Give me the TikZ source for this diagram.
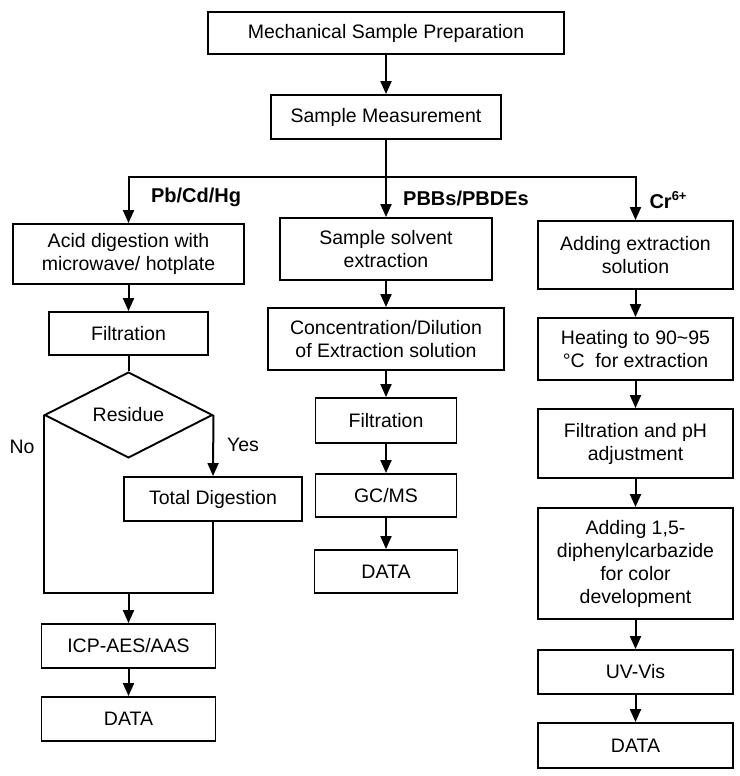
\documentclass[tikz,border=0pt]{standalone}
\usepackage{fontspec}
\setmainfont{Liberation Sans}
\usetikzlibrary{arrows.meta,shapes.geometric}
\begin{document}
\begin{tikzpicture}[x=1pt,y=-1pt,
  every node/.style={font=\fontsize{19.5}{23}\selectfont},
  box/.style={draw,line width=1.9pt,inner sep=0pt,align=center,rectangle},
  lbl/.style={font=\fontsize{20}{22}\selectfont\bfseries},
  conn/.style={line width=2pt},
  arr/.style={conn,-{Triangle[length=13pt,width=11pt]}}]
\useasboundingbox (0,0) rectangle (739,776);
% top
\node[box,minimum width=356,minimum height=42] (top) at (386,33) {Mechanical Sample Preparation};
\node[box,minimum width=230,minimum height=44] (meas) at (386,117) {Sample Measurement};
% left column
\node[box,minimum width=231,minimum height=60] (acid) at (128.5,254) {Acid digestion with\\microwave/ hotplate};
\node[box,minimum width=159,minimum height=43] (filt1) at (128.5,333.5) {Filtration};
\node[draw,diamond,line width=1.9pt,inner sep=0pt,minimum width=168,minimum height=60] (dia) at (128.5,415) {Residue};
\node[box,minimum width=178,minimum height=44] (td) at (213,499) {Total Digestion};
\node[box,minimum width=174,minimum height=44] (icp) at (128.5,646) {ICP-AES/AAS};
\node[box,minimum width=174,minimum height=44] (data1) at (128.5,719) {DATA};
% middle column
\node[box,minimum width=212,minimum height=62] (solv) at (386,249) {Sample solvent\\extraction};
\node[box,minimum width=236,minimum height=62] (conc) at (386,339) {Concentration/Dilution\\of Extraction solution};
\node[box,minimum width=141,minimum height=45] (filt2) at (386,420.5) {Filtration};
\node[box,minimum width=141,minimum height=43] (gcms) at (386,495.5) {GC/MS};
\node[box,minimum width=143,minimum height=43] (data2) at (386,571.5) {DATA};
% right column
\node[box,minimum width=195,minimum height=68] (add) at (635.5,255) {Adding extraction\\solution};
\node[box,minimum width=195,minimum height=62] (heat) at (635.5,349) {Heating to 90\textasciitilde 95\\°C\ \ for extraction};
\node[box,minimum width=195,minimum height=69] (fph) at (635.5,443.5) {Filtration and pH\\adjustment};
\node[box,minimum width=195,minimum height=111] (dpc) at (635.5,563.5) {Adding 1,5-\\diphenylcarbazide\\for color\\development};
\node[box,minimum width=195,minimum height=44] (uv) at (635.5,672) {UV-Vis};
\node[box,minimum width=195,minimum height=45] (data3) at (635.5,745.5) {DATA};
% branch labels
\node[lbl] (l1) at (196,197) {Pb/Cd/Hg};
\node[lbl] (l2) at (466,198) {PBBs/PBDEs};
\node[lbl,anchor=west] (l3) at (646,200) {Cr\raisebox{0.8ex}{\fontsize{13}{13}\selectfont 6+}};
\node (no) at (22,447) {No};
\node (yes) at (243,445) {Yes};
% junction coordinates
\coordinate (jl) at (128.5,177);
\coordinate (jm) at (386,177);
\coordinate (jr) at (635.5,177);
\coordinate (bl) at (dia.west |- 0,593);
\coordinate (bm) at (128.5,593);
\coordinate (br) at (td.south |- 0,593);
% connectors
\draw[arr] (top) -- (meas);
\draw[conn] (meas.south) -- (jm);
\draw[conn,line cap=rect] (jl) -- (jr);
\draw[arr] (jl) -- (acid.north);
\draw[arr] (jm) -- (solv.north);
\draw[arr] (jr) -- (add.north);
\draw[arr] (acid) -- (filt1);
\draw[conn] (filt1) -- (dia.north);
\draw[arr] (dia.east) -- (td.north);
\draw[conn,line join=miter] (dia.west) -- (bl) -- (br) -- (td.south);
\draw[arr] (bm) -- (icp.north);
\draw[arr] (icp) -- (data1);
\draw[arr] (solv) -- (conc);
\draw[arr] (conc) -- (filt2);
\draw[arr] (filt2) -- (gcms);
\draw[arr] (gcms) -- (data2);
\draw[arr] (add) -- (heat);
\draw[arr] (heat) -- (fph);
\draw[arr] (fph) -- (dpc);
\draw[arr] (dpc) -- (uv);
\draw[arr] (uv) -- (data3);
\end{tikzpicture}
\end{document}
